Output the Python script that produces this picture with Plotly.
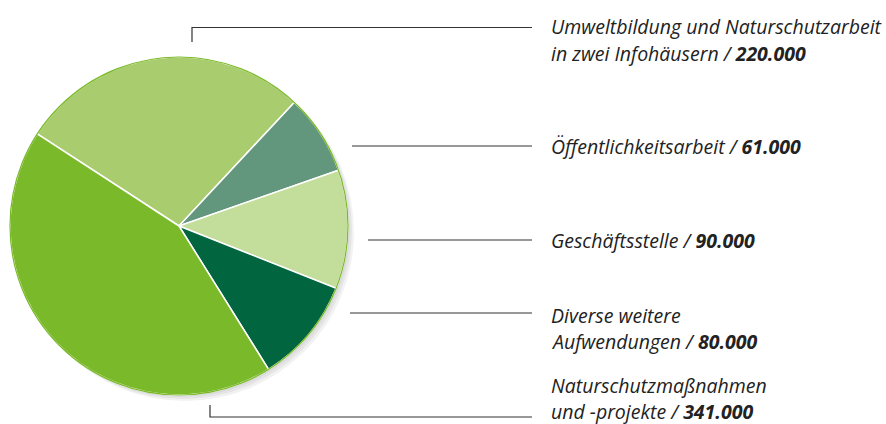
import plotly.graph_objects as go

W, H = 886, 424

labels = ["Umweltbildung und Naturschutzarbeit in zwei Infohäusern",
          "Öffentlichkeitsarbeit",
          "Geschäftsstelle",
          "Diverse weitere Aufwendungen",
          "Naturschutzmaßnahmen und -projekte"]
values = [220000, 61000, 90000, 80000, 341000]
label_lines = [
    ["Umweltbildung und Naturschutzarbeit", "in zwei Infohäusern"],
    ["Öffentlichkeitsarbeit"],
    ["Geschäftsstelle"],
    ["Diverse weitere", "Aufwendungen"],
    ["Naturschutzmaßnahmen", "und -projekte"],
]
colors = ["#a9cd6e", "#62977d", "#c3dd9a", "#016540", "#7ab929"]

def px(x):
    return x / W

def py(y):
    return 1 - y / H

def fmt(v):
    return f"{v:,}".replace(",", ".")

cx, cy, r = 179, 226, 169

fig = go.Figure()
fig.add_trace(go.Pie(
    labels=labels, values=values, sort=False, direction="clockwise",
    rotation=-57,
    marker=dict(colors=colors, line=dict(color="white", width=1.5)),
    textinfo="none", hoverinfo="label+value", showlegend=False,
    domain=dict(x=[px(cx - r), px(cx + r)], y=[py(cy + r), py(cy - r)]),
))

shapes = []
# soft shadow
for i, a in enumerate([0.05, 0.05, 0.05]):
    d = 2 + i * 2
    shapes.append(dict(type="circle", xref="paper", yref="paper", layer="below",
                       x0=px(cx - r + d), x1=px(cx + r + d), y0=py(cy + r + d), y1=py(cy - r + d),
                       line=dict(width=0), fillcolor=f"rgba(0,0,0,{a})"))
# outline
shapes.append(dict(type="circle", xref="paper", yref="paper", layer="above",
                   x0=px(cx - r), x1=px(cx + r), y0=py(cy + r), y1=py(cy - r),
                   line=dict(color="#7ab929", width=1.2), fillcolor="rgba(0,0,0,0)"))

lc = "#333333"
lw = 1.2
xe = 532
paths = [
    [(192, 42), (192, 27.5), (xe, 27.5)],
    [(352, 146), (xe, 146)],
    [(368, 240), (xe, 240)],
    [(350, 313), (xe, 313)],
    [(210, 405), (210, 417), (xe, 417)],
]
for pts in paths:
    p = "M " + " L ".join(f"{px(x)},{py(y)}" for x, y in pts)
    shapes.append(dict(type="path", xref="paper", yref="paper", path=p,
                       line=dict(color=lc, width=lw)))

line_y = [[27, 53], [146], [240], [315, 341], [385, 411]]
annotations = []
for lines, v, ys in zip(label_lines, values, line_y):
    for j, (t, y) in enumerate(zip(lines, ys)):
        if j == len(lines) - 1:
            t = f"{t} / <b>{fmt(v)}</b>"
        annotations.append(dict(xref="paper", yref="paper", x=px(550), y=py(y),
                                xanchor="left", yanchor="middle", showarrow=False,
                                borderpad=0,
                                text=t,
                                font=dict(family="Open Sans", size=19.5, color="#222222",
                                          style="italic")))

fig.update_layout(width=W, height=H, margin=dict(l=0, r=0, t=0, b=0),
                  paper_bgcolor="white", plot_bgcolor="white",
                  shapes=shapes, annotations=annotations)
fig.write_html("out.html", config={"displayModeBar": False},
               post_script="document.body.style.margin='0';document.body.style.overflow='hidden';")
